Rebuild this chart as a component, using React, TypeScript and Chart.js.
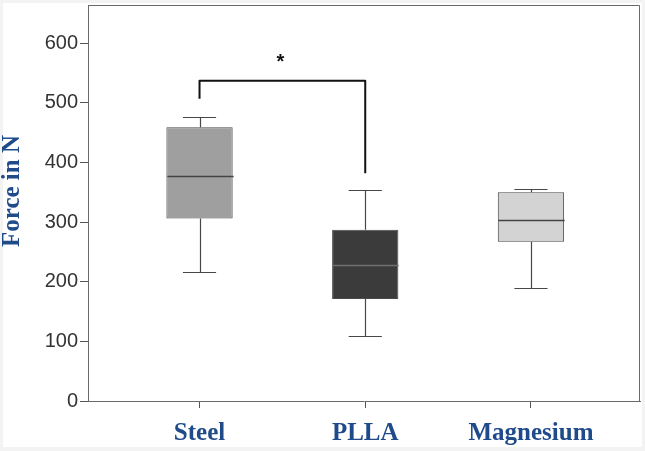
import React, { useEffect, useRef } from "react";
import { Chart, registerables } from "chart.js";

Chart.register(...registerables);

const categories = ["Steel", "PLLA", "Magnesium"];
const minValues = [217, 109, 189];
const q1Values = [306, 171, 267];
const medianValues = [377, 228, 303];
const q3Values = [459, 287, 350];
const maxValues = [477, 354, 356];
const yTicks = [0, 100, 200, 300, 400, 500, 600];
const yTitle = "Force in N";
const boxColors = ["#9f9f9f", "#3b3b3b", "#d3d3d3"];
const medianColors = ["#444444", "#707070", "#444444"];
// significance bracket between Steel (0) and PLLA (1)
const bracketFrom = 0;
const bracketTo = 1;
const bracketLeftEnd = 507;
const bracketTop = 537;
const bracketRightEnd = 382;
const starValue = 573;
const starLabel = "*";

const boxPlugin = {
  id: "boxExtras",
  afterDatasetsDraw(chart: any) {
    const { ctx, chartArea, scales } = chart;
    const xs = scales.x;
    const ys = scales.y;
    const meta = chart.getDatasetMeta(0);
    ctx.save();
    // frame
    ctx.strokeStyle = "#6a6a6a";
    ctx.lineWidth = 1;
    ctx.beginPath();
    ctx.moveTo(chartArea.left + 0.5, chartArea.bottom);
    ctx.lineTo(chartArea.left + 0.5, chartArea.top + 0.5);
    ctx.lineTo(chartArea.right - 0.5, chartArea.top + 0.5);
    ctx.lineTo(chartArea.right - 0.5, chartArea.bottom);
    ctx.stroke();

    categories.forEach((_, i) => {
      const bar = meta.data[i];
      const cx = Math.round(xs.getPixelForValue(i)) + 0.5;
      const half = bar.width / 2;
      const capL = xs.getPixelForValue(i - 0.1);
      const capR = xs.getPixelForValue(i + 0.1);
      const pMin = Math.round(ys.getPixelForValue(minValues[i])) + 0.5;
      const pMax = Math.round(ys.getPixelForValue(maxValues[i])) + 0.5;
      const pQ1 = ys.getPixelForValue(q1Values[i]);
      const pQ3 = ys.getPixelForValue(q3Values[i]);
      const pMed = Math.round(ys.getPixelForValue(medianValues[i])) + 0.5;
      ctx.strokeStyle = "#474747";
      ctx.lineWidth = 1.2;
      ctx.beginPath();
      ctx.moveTo(cx, pQ3);
      ctx.lineTo(cx, pMax);
      ctx.moveTo(capL, pMax);
      ctx.lineTo(capR, pMax);
      ctx.moveTo(cx, pQ1);
      ctx.lineTo(cx, pMin);
      ctx.moveTo(capL, pMin);
      ctx.lineTo(capR, pMin);
      ctx.stroke();
      ctx.strokeStyle = medianColors[i];
      ctx.lineWidth = 1.3;
      ctx.beginPath();
      ctx.moveTo(cx - half, pMed);
      ctx.lineTo(cx + half, pMed);
      ctx.stroke();
    });

    // bracket
    const bx1 = xs.getPixelForValue(bracketFrom);
    const bx2 = xs.getPixelForValue(bracketTo);
    ctx.strokeStyle = "#111111";
    ctx.lineWidth = 2;
    ctx.lineJoin = "round";
    ctx.beginPath();
    ctx.moveTo(bx1, ys.getPixelForValue(bracketLeftEnd));
    ctx.lineTo(bx1, ys.getPixelForValue(bracketTop));
    ctx.lineTo(bx2, ys.getPixelForValue(bracketTop));
    ctx.lineTo(bx2, ys.getPixelForValue(bracketRightEnd));
    ctx.stroke();

    ctx.fillStyle = "#111111";
    ctx.font = "bold 20px 'Liberation Sans', Arial, sans-serif";
    ctx.textAlign = "center";
    ctx.textBaseline = "middle";
    ctx.fillText(
      starLabel,
      xs.getPixelForValue((bracketFrom + bracketTo) / 2) - 2,
      ys.getPixelForValue(starValue) + 3
    );

    // y-axis title
    ctx.save();
    ctx.translate(13, (chartArea.top + chartArea.bottom) / 2 - 12);
    ctx.rotate(-Math.PI / 2);
    ctx.fillStyle = "#1f4b8a";
    ctx.font = "bold 25px 'Liberation Serif', 'Times New Roman', serif";
    ctx.textAlign = "center";
    ctx.textBaseline = "middle";
    ctx.fillText(yTitle, 0, 0);
    ctx.restore();

    ctx.restore();
  },
};

export default function App() {
  const canvasRef = useRef<HTMLCanvasElement | null>(null);

  useEffect(() => {
    document.body.style.margin = "0";
    const canvas = canvasRef.current;
    if (!canvas) return;
    const chart = new Chart(canvas, {
      type: "bar",
      data: {
        datasets: [
          {
            data: categories.map((_, i) => ({ x: i, y: [q1Values[i], q3Values[i]] })) as any,
            backgroundColor: boxColors,
            borderColor: "#4a4a4a",
            borderWidth: 1,
            borderSkipped: false,
            barPercentage: 0.4,
            categoryPercentage: 1,
          },
        ],
      },
      options: {
        animation: false,
        responsive: false,
        maintainAspectRatio: false,
        layout: { padding: { top: 5, right: 5, left: 0, bottom: 0 } },
        plugins: { legend: { display: false }, tooltip: { enabled: false } },
        scales: {
          x: {
            type: "linear",
            offset: false,
            min: -0.673,
            max: 2.658,
            afterBuildTicks: (s: any) => {
              s.ticks = categories.map((_, i) => ({ value: i }));
            },
            afterFit: (s: any) => {
              s.height = 50;
              s.paddingLeft = 0;
              s.paddingRight = 0;
            },
            ticks: {
              callback: (v: any) => categories[v as number] ?? "",
              font: { family: "'Liberation Serif', 'Times New Roman', serif", size: 25, weight: "bold" },
              color: "#1f4b8a",
              padding: 11,
              maxRotation: 0,
              autoSkip: false,
            },
            grid: { offset: false, drawOnChartArea: false, drawTicks: true, tickLength: 7, color: "#555555" },
            border: { color: "#6a6a6a" },
          },
          y: {
            min: 0,
            max: 664,
            afterBuildTicks: (s: any) => {
              s.ticks = yTicks.map((v) => ({ value: v }));
            },
            afterFit: (s: any) => {
              s.width = 88;
              s.paddingTop = 0;
              s.paddingBottom = 0;
            },
            ticks: {
              font: { family: "'Liberation Sans', Arial, sans-serif", size: 20 },
              color: "#333333",
              padding: 2,
            },
            grid: { drawOnChartArea: false, drawTicks: true, tickLength: 8, color: "#555555" },
            border: { color: "#6a6a6a" },
          },
        },
      },
      plugins: [boxPlugin],
    });
    return () => chart.destroy();
  }, []);

  return (
    <div style={{ position: "relative", width: 645, height: 451, background: "#f3f3f3" }}>
      <div style={{ position: "absolute", left: 3, top: 3, width: 639, height: 444, background: "#ffffff" }} />
      <canvas
        ref={canvasRef}
        width={645}
        height={451}
        style={{ position: "absolute", left: 0, top: 0, width: 645, height: 451 }}
      />
    </div>
  );
}
